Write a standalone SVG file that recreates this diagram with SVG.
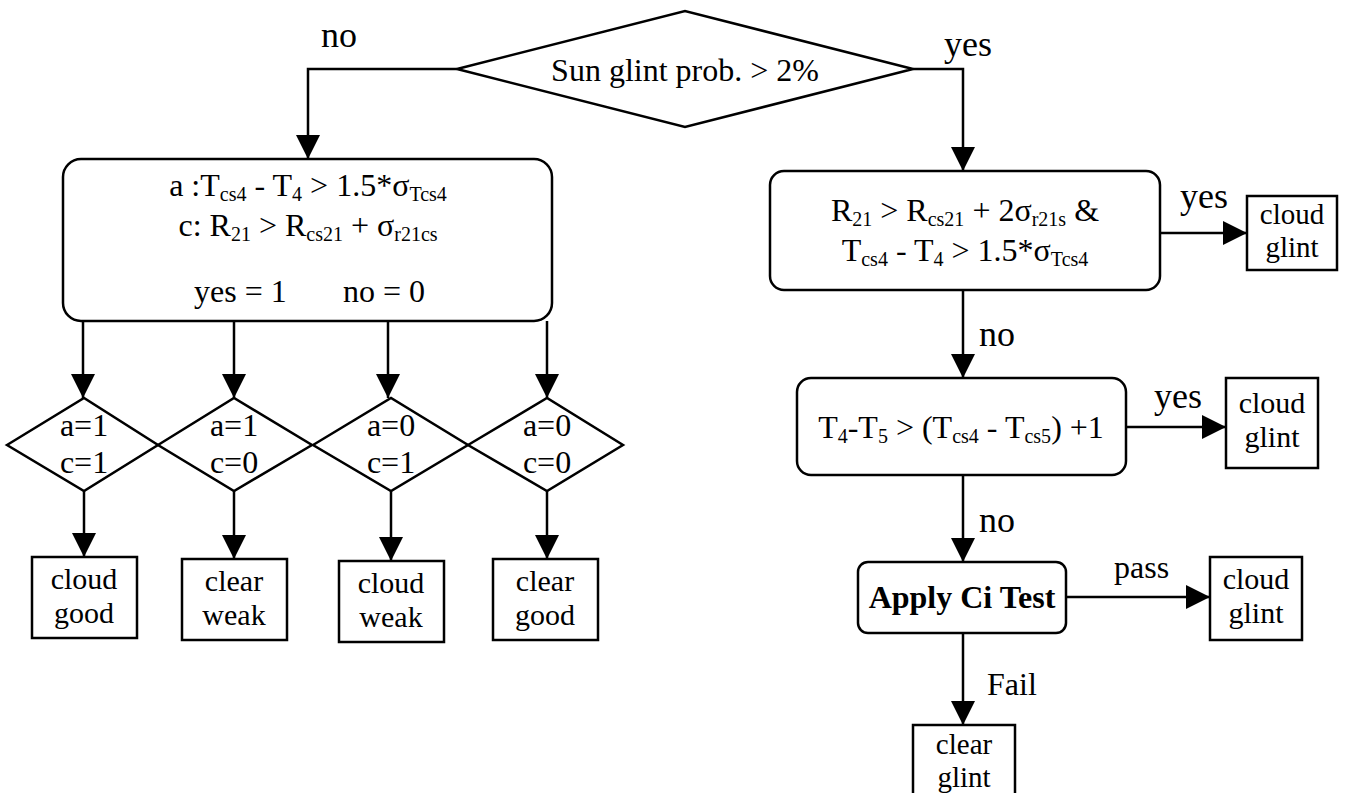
<svg xmlns="http://www.w3.org/2000/svg" width="1365" height="793" viewBox="0 0 1365 793" font-family="'Liberation Serif', 'DejaVu Serif', 'Times New Roman', serif">
  <style>
    text { font-family: 'Liberation Serif', 'DejaVu Serif', 'Times New Roman', serif; fill: #000; }
    .t { font-size: 32px; }
    .n { font-size: 30px; }
    .s { font-size: 29px; }
    .lbl { font-size: 36px; }
    .mid { text-anchor: middle; }
    .bold { font-weight: bold; }
    .sub { font-size: 20px; }
    .shape { fill: #fff; stroke: #000; stroke-width: 2.5; }
    .wire { fill: none; stroke: #000; stroke-width: 2.5; marker-end: url(#arrow); }
  </style>
  <defs>
    <marker id="arrow" markerUnits="userSpaceOnUse" markerWidth="24" markerHeight="24" viewBox="0 0 24 24" refX="24" refY="12" orient="auto">
      <path d="M0,0 L24,12 L0,24 Z" fill="#000"/>
    </marker>
  </defs>
  <rect width="1365" height="793" fill="#fff"/>

  <!-- connectors and their labels -->
  <g id="connectors">
    <polyline class="wire" points="457,69 308,69 308,159"/>
    <polyline class="wire" points="913,69 963,69 963,171"/>
    <line class="wire" x1="83" y1="321" x2="83" y2="398"/>
    <line class="wire" x1="234" y1="321" x2="234" y2="398"/>
    <line class="wire" x1="388" y1="321" x2="388" y2="398"/>
    <line class="wire" x1="547" y1="321" x2="547" y2="398"/>
    <line class="wire" x1="84" y1="491" x2="84" y2="557"/>
    <line class="wire" x1="234" y1="491" x2="234" y2="559"/>
    <line class="wire" x1="391" y1="491" x2="391" y2="561"/>
    <line class="wire" x1="547" y1="491" x2="547" y2="559"/>
    <line class="wire" x1="1160" y1="233" x2="1247" y2="233"/>
    <line class="wire" x1="963" y1="290" x2="963" y2="378"/>
    <line class="wire" x1="1126" y1="427" x2="1226" y2="427"/>
    <line class="wire" x1="963" y1="475" x2="963" y2="562"/>
    <line class="wire" x1="1066" y1="597" x2="1210" y2="597"/>
    <line class="wire" x1="963" y1="633" x2="963" y2="725"/>
    <text class="lbl" x="321" y="47">no</text>
    <text class="lbl" x="944" y="56">yes</text>
    <text class="lbl" x="1180" y="208">yes</text>
    <text class="lbl" x="979" y="346">no</text>
    <text class="lbl" x="1154" y="408">yes</text>
    <text class="lbl" x="979" y="532">no</text>
    <text class="t" x="1114" y="578">pass</text>
    <text class="t" x="987" y="695">Fail</text>
  </g>

  <!-- top decision -->
  <g id="sun-glint">
    <polygon class="shape" points="457,69 685,11 913,69 685,127"/>
    <text class="t mid" x="685" y="81">Sun glint prob. &gt; 2%</text>
  </g>

  <!-- low-glint branch -->
  <g id="ac-tests">
    <rect class="shape" x="63" y="159" width="489" height="162" rx="18"/>
    <text class="t mid" x="308" y="196">a :T<tspan class="sub" dy="5">cs4</tspan><tspan dy="-5"> - T</tspan><tspan class="sub" dy="5">4</tspan><tspan dy="-5"> &gt; 1.5*σ</tspan><tspan class="sub" dy="5">Tcs4</tspan></text>
    <text class="t mid" x="308" y="236">c: R<tspan class="sub" dy="5">21</tspan><tspan dy="-5"> &gt; R</tspan><tspan class="sub" dy="5">cs21</tspan><tspan dy="-5"> + σ</tspan><tspan class="sub" dy="5">r21cs</tspan></text>
    <text class="t" x="194" y="302">yes = 1</text>
    <text class="t" x="343" y="302">no = 0</text>
  </g>

  <g id="case-a1c1">
    <polygon class="shape" points="7,445 84,398 158,445 84,491"/>
    <text class="t mid" x="84" y="436">a=1</text>
    <text class="t mid" x="84" y="473">c=1</text>
  </g>
  <g id="case-a1c0">
    <polygon class="shape" points="158,445 234,398 312,445 234,491"/>
    <text class="t mid" x="234" y="436">a=1</text>
    <text class="t mid" x="234" y="473">c=0</text>
  </g>
  <g id="case-a0c1">
    <polygon class="shape" points="313,445 391,398 468,445 391,491"/>
    <text class="t mid" x="391" y="436">a=0</text>
    <text class="t mid" x="391" y="473">c=1</text>
  </g>
  <g id="case-a0c0">
    <polygon class="shape" points="468,445 547,398 623,445 547,491"/>
    <text class="t mid" x="547" y="436">a=0</text>
    <text class="t mid" x="547" y="473">c=0</text>
  </g>

  <g id="cloud-good">
    <rect class="shape" x="32" y="557" width="105" height="81"/>
    <text class="n mid" x="84" y="589">cloud</text>
    <text class="n mid" x="84" y="623">good</text>
  </g>
  <g id="clear-weak">
    <rect class="shape" x="182" y="559" width="105" height="81"/>
    <text class="n mid" x="234" y="591">clear</text>
    <text class="n mid" x="234" y="625">weak</text>
  </g>
  <g id="cloud-weak">
    <rect class="shape" x="339" y="561" width="105" height="81"/>
    <text class="n mid" x="391" y="593">cloud</text>
    <text class="n mid" x="391" y="627">weak</text>
  </g>
  <g id="clear-good">
    <rect class="shape" x="493" y="559" width="105" height="81"/>
    <text class="n mid" x="545" y="591">clear</text>
    <text class="n mid" x="545" y="625">good</text>
  </g>

  <!-- high-glint branch -->
  <g id="r21-test">
    <rect class="shape" x="770" y="171" width="390" height="119" rx="14"/>
    <text class="t mid" x="965" y="221">R<tspan class="sub" dy="5">21</tspan><tspan dy="-5"> &gt; R</tspan><tspan class="sub" dy="5">cs21</tspan><tspan dy="-5"> + 2σ</tspan><tspan class="sub" dy="5">r21s</tspan><tspan dy="-5"> &amp;</tspan></text>
    <text class="t mid" x="965" y="261">T<tspan class="sub" dy="5">cs4</tspan><tspan dy="-5"> - T</tspan><tspan class="sub" dy="5">4</tspan><tspan dy="-5"> &gt; 1.5*σ</tspan><tspan class="sub" dy="5">Tcs4</tspan></text>
  </g>
  <g id="cloud-glint-1">
    <rect class="shape" x="1247" y="196" width="90" height="74"/>
    <text class="s mid" x="1292" y="224">cloud</text>
    <text class="s mid" x="1292" y="257">glint</text>
  </g>

  <g id="btd-test">
    <rect class="shape" x="797" y="378" width="329" height="97" rx="14"/>
    <text class="t mid" x="961" y="438">T<tspan class="sub" dy="5">4</tspan><tspan dy="-5">-T</tspan><tspan class="sub" dy="5">5</tspan><tspan dy="-5"> &gt; (T</tspan><tspan class="sub" dy="5">cs4</tspan><tspan dy="-5"> - T</tspan><tspan class="sub" dy="5">cs5</tspan><tspan dy="-5">) +1</tspan></text>
  </g>
  <g id="cloud-glint-2">
    <rect class="shape" x="1226" y="378" width="92" height="90"/>
    <text class="n mid" x="1272" y="413">cloud</text>
    <text class="n mid" x="1272" y="447">glint</text>
  </g>

  <g id="ci-test">
    <rect class="shape" x="858" y="562" width="208" height="71" rx="10"/>
    <text class="t mid bold" x="962" y="608">Apply Ci Test</text>
  </g>
  <g id="cloud-glint-3">
    <rect class="shape" x="1210" y="557" width="92" height="83"/>
    <text class="n mid" x="1256" y="589">cloud</text>
    <text class="n mid" x="1256" y="623">glint</text>
  </g>
  <g id="clear-glint">
    <rect class="shape" x="913" y="725" width="102" height="72"/>
    <text class="s mid" x="964" y="754">clear</text>
    <text class="s mid" x="964" y="787">glint</text>
  </g>
</svg>
